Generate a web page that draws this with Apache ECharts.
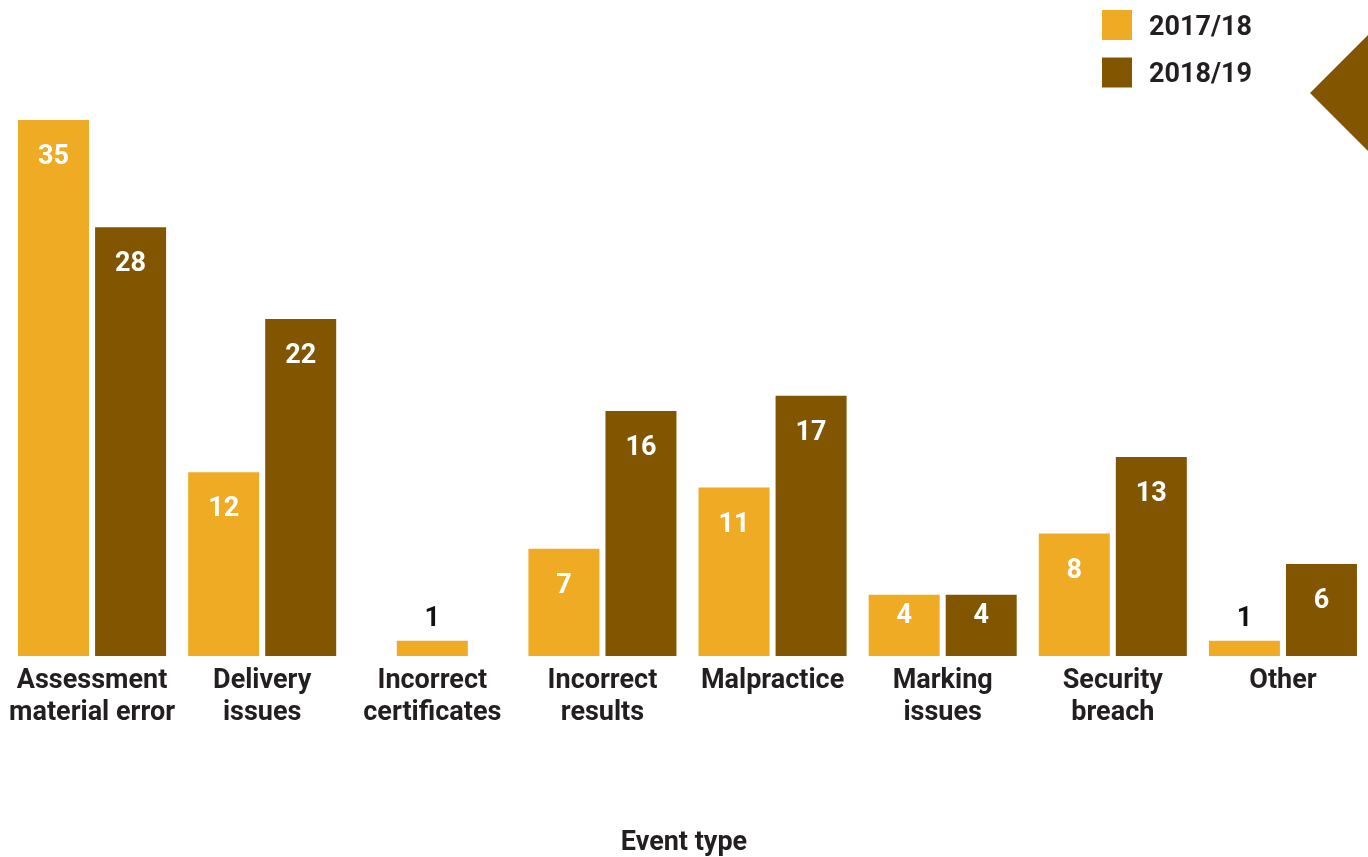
<!DOCTYPE html>
<html>
<head>
<meta charset="utf-8">
<script src="https://cdn.jsdelivr.net/npm/echarts@6/dist/echarts.min.js"></script>
<style>
html,body{margin:0;padding:0;background:#fff;}
#chart{width:1368px;height:857px;}
</style>
</head>
<body>
<div id="chart"></div>
<script>
const categories = ['Assessment\nmaterial error', 'Delivery\nissues', 'Incorrect\ncertificates', 'Incorrect\nresults', 'Malpractice', 'Marking\nissues', 'Security\nbreach', 'Other'];
const seriesNames = ['2017/18', '2018/19'];
const values1718 = [35, 12, 1, 7, 11, 4, 8, 1];
const values1819 = [28, 22, null, 16, 17, 4, 13, 6];

const COLOR_LIGHT = '#F0AB24';
const COLOR_DARK = '#825600';
const TEXT = '#231F20';
const FONT = 'Roboto';
const FS = 27;

function labelFor(v) {
  if (v == null) return {};
  if (v <= 2) {
    return { show: true, position: 'top', distance: 8, color: '#111', fontSize: FS, fontWeight: 'bold', fontFamily: FONT };
  }
  return { show: true, position: 'insideTop', distance: v <= 4 ? 8 : 24, color: '#fff', fontSize: FS, fontWeight: 'bold', fontFamily: FONT };
}
function toData(arr) {
  return arr.map(v => v == null ? null : { value: v, label: labelFor(v) });
}
// bars whose partner is missing are drawn centred on a twin category axis
const mainA = values1718.map((v, i) => values1819[i] == null ? null : v);
const soloA = values1718.map((v, i) => values1819[i] == null ? v : null);

const chart = echarts.init(document.getElementById('chart'), null, { renderer: 'canvas' });
const xBase = {
  type: 'category',
  data: categories,
  axisLine: { show: false },
  axisTick: { show: false },
  splitLine: { show: false }
};
chart.setOption({
  animation: false,
  backgroundColor: '#fff',
  title: {
    text: 'Event type',
    left: 'center',
    top: 825,
    textStyle: { fontSize: FS, fontWeight: 'bold', color: TEXT, fontFamily: FONT }
  },
  legend: {
    orient: 'vertical',
    left: 1097,
    top: 5,
    itemWidth: 30,
    itemHeight: 30,
    itemGap: 16,
    icon: 'rect',
    data: seriesNames,
    selectedMode: false,
    formatter: name => '{t|' + name + '}',
    textStyle: {
      fontSize: FS, fontWeight: 'bold', color: TEXT, fontFamily: FONT,
      rich: { t: { fontSize: FS, fontWeight: 'bold', color: TEXT, fontFamily: FONT, padding: [6, 0, 0, 12] } }
    }
  },
  grid: { left: 7, width: 1363, top: 120, bottom: 201, containLabel: false },
  xAxis: [
    Object.assign({}, xBase, {
      axisLabel: { interval: 0, margin: 9, fontSize: FS, fontWeight: 'bold', color: TEXT, fontFamily: FONT, lineHeight: 32 }
    }),
    Object.assign({}, xBase, { show: false })
  ],
  yAxis: { type: 'value', min: 0, max: 35, show: false, splitLine: { show: false } },
  series: [
    {
      name: seriesNames[0], type: 'bar', xAxisIndex: 0, barWidth: 71, barGap: '8.5%',
      itemStyle: { color: COLOR_LIGHT }, data: toData(mainA)
    },
    {
      name: seriesNames[1], type: 'bar', xAxisIndex: 0, barWidth: 71, barGap: '8.5%',
      itemStyle: { color: COLOR_DARK }, data: toData(values1819)
    },
    {
      name: seriesNames[0], type: 'bar', xAxisIndex: 1, barWidth: 71,
      itemStyle: { color: COLOR_LIGHT }, data: toData(soloA)
    }
  ],
  graphic: [
    {
      type: 'polygon',
      shape: { points: [[1310, 93], [1368, 35], [1368, 151]] },
      style: { fill: COLOR_DARK },
      silent: true
    }
  ]
});
</script>
</body>
</html>
